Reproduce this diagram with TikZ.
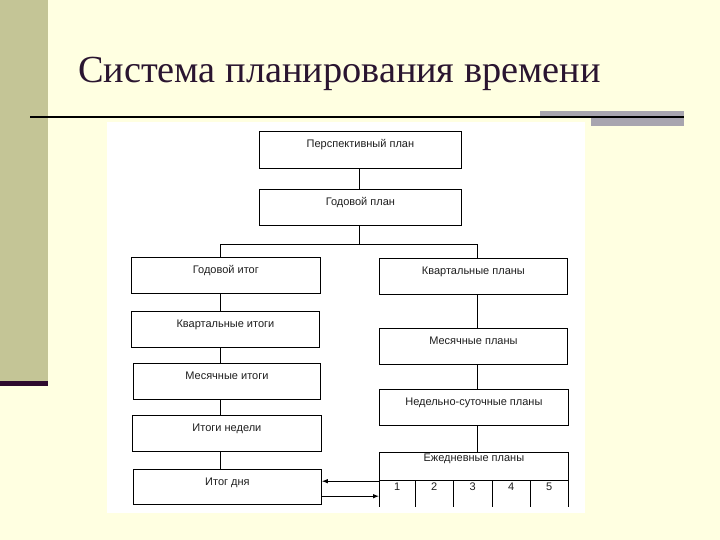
\documentclass[tikz,border=0pt]{standalone}
\usepackage{fontspec}
\setmainfont{Liberation Serif}
\newfontfamily\boxfont{Liberation Sans}
\usetikzlibrary{arrows.meta}
\definecolor{bg}{HTML}{FFFFE1}
\definecolor{olivebar}{HTML}{C4C596}
\definecolor{plumline}{HTML}{2E0A2E}
\definecolor{graybar}{HTML}{A8A5AF}
\definecolor{titlecol}{HTML}{2A1530}
\definecolor{boxtext}{HTML}{1E1E1E}
\begin{document}
\begin{tikzpicture}[x=1pt,y=-1pt,
  box/.style={draw=black, line width=0.8pt, anchor=north west, inner xsep=0pt, inner ysep=0pt,
    text height=16pt, font=\boxfont\fontsize{11}{13}\selectfont, text=boxtext, align=center},
  cellbox/.style={anchor=north west, inner xsep=0pt, inner ysep=0pt, minimum height=27pt,
    text height=10pt, text depth=17pt, font=\boxfont\fontsize{11}{13}\selectfont, text=boxtext},
  conn/.style={line width=0.8pt},
  arr/.style={line width=0.8pt, -{Latex[length=6pt,width=4.5pt]}}]
\useasboundingbox (0,0) rectangle (720,540);
\fill[bg] (0,0) rectangle (720,540);
\fill[olivebar] (0,0) rectangle (48,381);
\fill[plumline] (0,381) rectangle (48,386);
\fill[graybar] (540,111) rectangle (684,118);
\fill[graybar] (591,118) rectangle (684,126);
\draw[line width=2pt] (30,117) -- (684,117);
\fill[white] (107,122) rectangle (585,513);

\node[anchor=base west, inner sep=0pt, text=titlecol, font=\fontsize{38.3}{46}\selectfont] (title) at (78,83) {Система планирования времени};

% top boxes
\node[box, minimum width=202pt, text depth=21pt] (persp) at (259,131) {Перспективный план};
\node[box, minimum width=202pt, text depth=20pt] (godplan) at (259,189) {Годовой план};

% left column
\node[box, minimum width=189pt, text depth=20pt] (goditog) at (131,257) {Годовой итог};
\node[box, minimum width=188pt, text depth=20pt] (kvitog) at (131,311) {Квартальные итоги};
\node[box, minimum width=187pt, text depth=20pt] (mesitog) at (133,363) {Месячные итоги};
\node[box, minimum width=189pt, text depth=20pt] (nedeli) at (132,415) {Итоги недели};
\node[box, minimum width=188pt, text depth=19pt] (itogday) at (133,469) {Итог дня};

% right column
\node[box, minimum width=188pt, text depth=20pt] (kvplan) at (379,258) {Квартальные планы};
\node[box, minimum width=188pt, text depth=20pt] (mesplan) at (379,328) {Месячные планы};
\node[box, minimum width=189pt, text depth=20pt] (nedplan) at (379,389) {Недельно-суточные планы};
\node[box, minimum width=189pt, text height=9pt, text depth=19pt] (daily) at (379,452) {Ежедневные планы};

% day cells
\node[cellbox, minimum width=36pt] (c1) at (379,480) {1};
\node[cellbox, minimum width=38pt] (c2) at (415,480) {2};
\node[cellbox, minimum width=39pt] (c3) at (453,480) {3};
\node[cellbox, minimum width=38pt] (c4) at (492,480) {4};
\node[cellbox, minimum width=38pt] (c5) at (530,480) {5};
\draw[conn] (c1.north west) -- (c1.south west);
\draw[conn] (c2.north west) -- (c2.south west);
\draw[conn] (c3.north west) -- (c3.south west);
\draw[conn] (c4.north west) -- (c4.south west);
\draw[conn] (c5.north west) -- (c5.south west);
\draw[conn] (c5.north east) -- (c5.south east);

% connectors
\coordinate (L) at (220,244);
\coordinate (R) at (477,244);
\coordinate (split) at (359,244);
\draw[conn] (persp.south -| split) -- (godplan.north -| split);
\draw[conn] (godplan.south -| split) -- (split);
\draw[conn] (goditog.north -| L) -- (L) -- (R) -- (kvplan.north -| R);
\draw[conn] (goditog.south -| L) -- (kvitog.north -| L);
\draw[conn] (kvitog.south -| L) -- (mesitog.north -| L);
\draw[conn] (mesitog.south -| L) -- (nedeli.north -| L);
\draw[conn] (nedeli.south -| L) -- (itogday.north -| L);
\draw[conn] (kvplan.south -| R) -- (mesplan.north -| R);
\draw[conn] (mesplan.south -| R) -- (nedplan.north -| R);
\draw[conn] (nedplan.south -| R) -- (daily.north -| R);

% arrows between day plan and day result
\draw[arr] ([yshift=12.5pt]c1.west) -- ([yshift=12.5pt]c1.west -| itogday.east);
\draw[arr] ([yshift=-2.5pt]c1.west -| itogday.east) -- ([yshift=-2.5pt]c1.west);
\end{tikzpicture}
\end{document}
